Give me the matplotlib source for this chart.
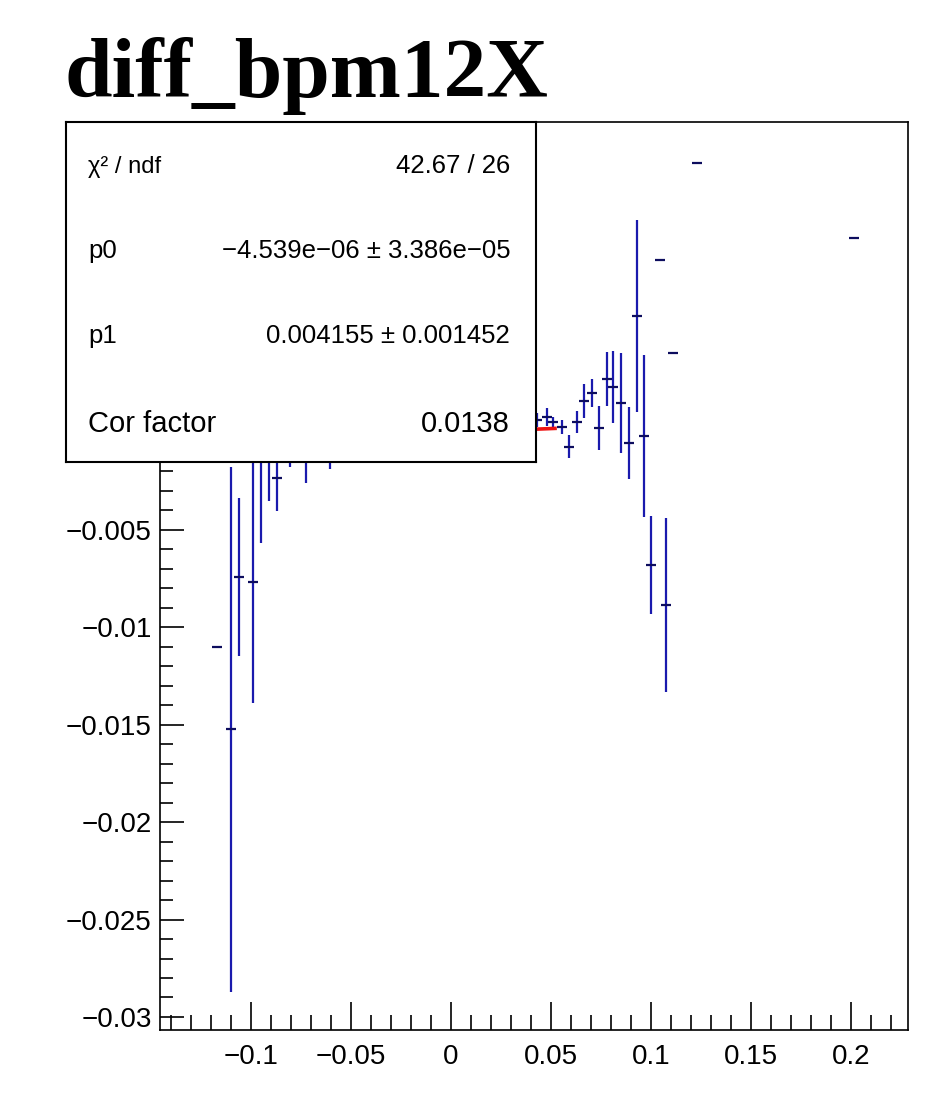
import numpy as np
import matplotlib
matplotlib.use("Agg")
import matplotlib.pyplot as plt
from matplotlib.ticker import FixedLocator, MultipleLocator

# ---------------- data ----------------
x_vals = [-0.117, -0.110, -0.106, -0.099, -0.095, -0.091, -0.087, -0.0805, -0.0725, -0.0605,
          0.043, 0.048, 0.051, 0.0555, 0.059, 0.063, 0.0665, 0.0705, 0.074, 0.078,
          0.081, 0.085, 0.089, 0.093, 0.0965, 0.100, 0.1045, 0.1075, 0.111, 0.123, 0.2015]
y_vals = [-0.01101, -0.01524, -0.00741, -0.00767, -0.00114, -0.00114, -0.00233, -0.00064, -0.00089, -0.00064,
          0.00065, 0.00080, 0.00054, 0.00026, -0.00074, 0.00054, 0.00162, 0.00203, 0.00024, 0.00275,
          0.00234, 0.00152, -0.00053, 0.00599, -0.00017, -0.00680, 0.00885, -0.00885, 0.00409, 0.01384, 0.00999]
y_errs = [0.0, 0.01348, 0.00406, 0.00621, 0.00452, 0.00236, 0.00169, 0.00113, 0.00169, 0.00123,
          0.00036, 0.00046, 0.00026, 0.00036, 0.00059, 0.00056, 0.00087, 0.00072, 0.00113, 0.00139,
          0.00185, 0.00257, 0.00185, 0.00493, 0.00416, 0.00250, 0.0, 0.00447, 0.0, 0.0, 0.0]
x_half_width = 0.0027

fit_p0 = -4.539e-06
fit_p1 = 0.004155
fit_range = [-0.06, 0.052]

title = "diff_bpm12X"
stats_labels = ["\u03c7\u00b2 / ndf", "p0", "p1", "Cor factor"]
stats_values = ["42.67 / 26", "\u22124.539e\u221206 \u00b1 3.386e\u221205",
                "0.004155 \u00b1 0.001452", "0.0138"]

xtick_pos = [-0.1, -0.05, 0.0, 0.05, 0.1, 0.15, 0.2]
xtick_labels = ["\u22120.1", "\u22120.05", "0", "0.05", "0.1", "0.15", "0.2"]
ytick_pos = [-0.03, -0.025, -0.02, -0.015, -0.01, -0.005, 0.0, 0.005, 0.01, 0.015]
ytick_labels = ["\u22120.03", "\u22120.025", "\u22120.02", "\u22120.015", "\u22120.01",
                "\u22120.005", "0", "0.005", "0.01", "0.015"]

# ---------------- figure ----------------
W, H = 934, 1095
fig = plt.figure(figsize=(W / 100, H / 100), dpi=100)
plt.rcParams['font.family'] = ['Liberation Sans', 'DejaVu Sans']

def fx(px):
    return px / W

def fy(py):
    return 1 - py / H

ax = fig.add_axes([fx(160), fy(1030), fx(908) - fx(160), fy(122) - fy(1030)])
ax.set_xlim(-0.1455, 0.2285)
ax.set_ylim(-0.03067, 0.01594)

blue = '#1a1aad'
dark = '#0d0d5e'
x_arr = np.array(x_vals)
y_arr = np.array(y_vals)
ax.errorbar(x_arr, y_arr, yerr=np.array(y_errs), fmt='none', ecolor=blue,
            elinewidth=1.6, capsize=0, zorder=3)
ax.errorbar(x_arr, y_arr, xerr=x_half_width, fmt='none', ecolor=dark,
            elinewidth=1.6, capsize=0, zorder=4)

fx_line = np.array(fit_range)
ax.plot(fx_line, fit_p0 + fit_p1 * fx_line, color='#ee1111', lw=2.6, zorder=5)

for s in ax.spines.values():
    s.set_linewidth(1.2)
    s.set_color('black')

ax.xaxis.set_major_locator(FixedLocator(xtick_pos))
ax.set_xticklabels(xtick_labels)
ax.xaxis.set_minor_locator(MultipleLocator(0.01))
ax.yaxis.set_major_locator(FixedLocator(ytick_pos))
ax.set_yticklabels(ytick_labels)
ax.yaxis.set_minor_locator(MultipleLocator(0.001))

ax.tick_params(axis='x', which='major', direction='in', length=20, width=1.2,
               labelsize=20, pad=10, top=False)
ax.tick_params(axis='x', which='minor', direction='in', length=11, width=1.2, top=False)
ax.tick_params(axis='y', which='major', direction='in', length=17, width=1.2,
               labelsize=20, pad=6, right=False)
ax.tick_params(axis='y', which='minor', direction='in', length=9, width=1.2, right=False)

# ---------------- stats box ----------------
box_top_px, box_bottom_px = 122, 462
sb = fig.add_axes([fx(66), fy(box_bottom_px), fx(536) - fx(66), fy(box_top_px) - fy(box_bottom_px)])
sb.set_xticks([])
sb.set_yticks([])
sb.set_facecolor('white')
for s in sb.spines.values():
    s.set_linewidth(1.5)
    s.set_color('black')
row_y = [0.85, 0.60, 0.35, 0.088]
row_size = [18.5, 18.5, 18.5, 21]
for i, (lab, val, yy, fs) in enumerate(zip(stats_labels, stats_values, row_y, row_size)):
    sb.text(0.047, yy, lab, ha='left', va='baseline', fontsize=(17 if i == 0 else fs),
            transform=sb.transAxes)
    sb.text(0.945, yy, val, ha='right', va='baseline', fontsize=fs, transform=sb.transAxes)

# y tick labels that lie under the (opaque) stats box are covered in the reference
fig.canvas.draw()
box_bb = sb.get_window_extent()
for lbl in ax.get_yticklabels():
    bb = lbl.get_window_extent()
    if bb.overlaps(box_bb):
        lbl.set_visible(False)

# ---------------- title ----------------
fig.text(fx(65), fy(97), title, ha='left', va='baseline', fontsize=61.5,
         fontweight='bold', family=['Liberation Serif', 'DejaVu Serif'])

fig.savefig('out.png', dpi=100)
